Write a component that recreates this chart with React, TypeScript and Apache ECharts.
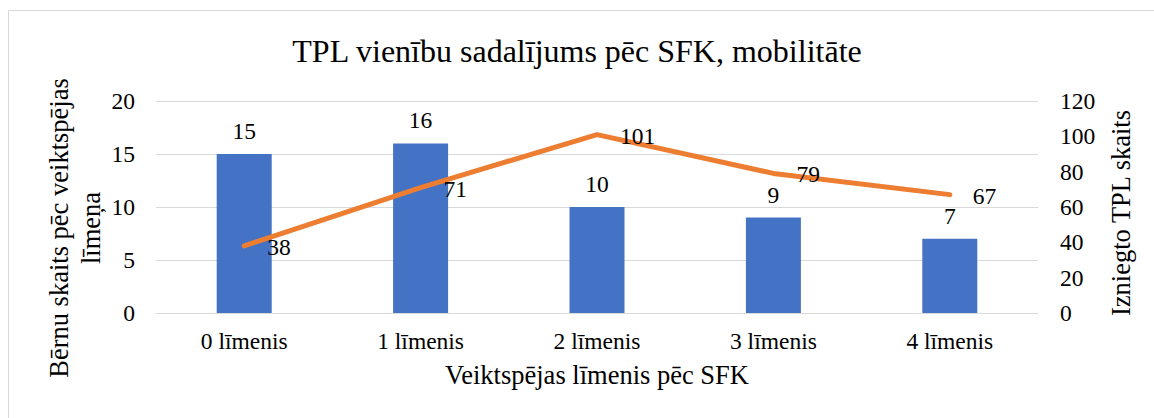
import React, { useEffect, useRef } from "react";
import * as echarts from "echarts";

const categories = ["0 līmenis", "1 līmenis", "2 līmenis", "3 līmenis", "4 līmenis"];
const childrenCounts = [15, 16, 10, 9, 7];
const tplCounts = [38, 71, 101, 79, 67];
const titleText = "TPL vienību sadalījums pēc SFK, mobilitāte";
const xAxisTitle = "Veiktspējas līmenis pēc SFK";
const leftAxisTitle = "Bērnu skaits pēc veiktspējas\nlīmeņa";
const rightAxisTitle = "Izniegto TPL skaits";

const FONT = "Liberation Serif";
const LABEL_SIZE = 23.5;
const AXIS_TITLE_SIZE = 26.5;

export default function App() {
  const ref = useRef<HTMLDivElement>(null);
  useEffect(() => {
    if (!ref.current) return;
    const chart = echarts.init(ref.current, undefined, { renderer: "svg" });
    chart.setOption({
      animation: false,
      backgroundColor: "#ffffff",
      textStyle: { fontFamily: FONT, color: "#000" },
      title: {
        text: titleText,
        left: "center",
        top: 30,
        textStyle: { fontFamily: FONT, fontSize: 32, fontWeight: "normal", color: "#000" },
      },
      graphic: [
        {
          type: "rect",
          shape: { x: 8.5, y: 10.5, width: 1300, height: 600 },
          style: { fill: "none", stroke: "#d9d9d9", lineWidth: 1 },
          silent: true,
        },
        {
          type: "text",
          x: 75,
          y: 228,
          rotation: Math.PI / 2,
          style: {
            text: leftAxisTitle,
            fontFamily: FONT,
            fontSize: AXIS_TITLE_SIZE,
            fill: "#000",
            align: "center",
            verticalAlign: "middle",
            lineHeight: 32,
          },
          silent: true,
        },
        {
          type: "text",
          x: 1121,
          y: 213,
          rotation: Math.PI / 2,
          style: {
            text: rightAxisTitle,
            fontFamily: FONT,
            fontSize: AXIS_TITLE_SIZE,
            fill: "#000",
            align: "center",
            verticalAlign: "middle",
          },
          silent: true,
        },
      ],
      grid: { left: 156, right: 116, top: 101, bottom: 105, containLabel: false },
      xAxis: {
        type: "category",
        data: categories,
        name: xAxisTitle,
        nameLocation: "middle",
        nameGap: 48,
        nameTextStyle: { fontFamily: FONT, fontSize: AXIS_TITLE_SIZE, color: "#000" },
        axisLine: { show: true, lineStyle: { color: "#d9d9d9", width: 1 } },
        axisTick: { show: false },
        axisLabel: { fontFamily: FONT, fontSize: LABEL_SIZE, color: "#000", margin: 16 },
      },
      yAxis: [
        {
          type: "value",
          min: 0,
          max: 20,
          interval: 5,
          axisLine: { show: false },
          axisTick: { show: false },
          axisLabel: { fontFamily: FONT, fontSize: LABEL_SIZE, color: "#000", margin: 21 },
          splitLine: { lineStyle: { color: "#d9d9d9", width: 1 } },
        },
        {
          type: "value",
          min: 0,
          max: 120,
          interval: 20,
          axisLine: { show: false },
          axisTick: { show: false },
          axisLabel: { fontFamily: FONT, fontSize: LABEL_SIZE, color: "#000", margin: 22 },
          splitLine: { show: false },
        },
      ],
      series: [
        {
          type: "bar",
          data: childrenCounts,
          yAxisIndex: 0,
          barWidth: 55,
          itemStyle: { color: "#4472C4" },
          label: {
            show: true,
            position: "top",
            distance: 11,
            fontFamily: FONT,
            fontSize: LABEL_SIZE,
            color: "#000",
          },
        },
        {
          type: "line",
          data: tplCounts,
          yAxisIndex: 1,
          symbol: "circle",
          symbolSize: 2,
          showSymbol: true,
          itemStyle: { color: "rgba(0,0,0,0)" },
          lineStyle: { color: "#ED7D31", width: 5, cap: "round" },
          label: {
            show: true,
            position: "right",
            distance: 22,
            offset: [0, 1],
            fontFamily: FONT,
            fontSize: LABEL_SIZE,
            color: "#000",
          },
        },
      ],
    });
    return () => chart.dispose();
  }, []);
  return (
    <div
      ref={ref}
      style={{ position: "absolute", left: 0, top: 0, width: 1154, height: 418 }}
    />
  );
}
